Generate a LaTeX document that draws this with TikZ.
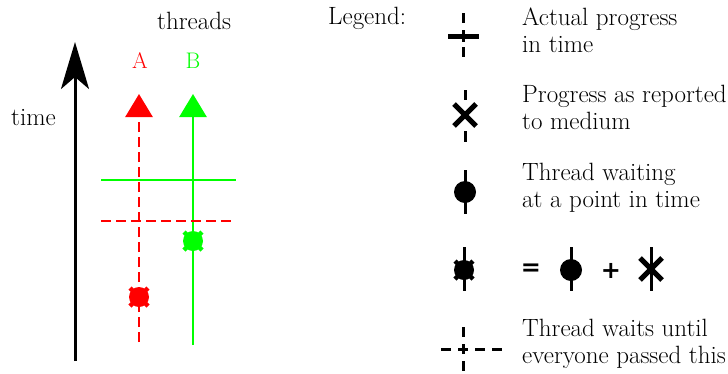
\documentclass[tikz,border=0pt]{standalone}
\usepackage{fontspec}
\newfontfamily\opfont{DejaVu Sans}
\usetikzlibrary{arrows.meta}
\tikzset{
  lbl/.style={font=\fontsize{25}{27}\selectfont, inner sep=0pt, anchor=base west},
  thrlbl/.style={font=\fontsize{22.5}{27}\selectfont, inner sep=0pt, anchor=base},
  opsign/.style={font=\fontsize{24}{27}\selectfont\opfont\bfseries, inner sep=0pt, anchor=center},
  redline/.style={red, line width=2.8pt, dash pattern=on 10pt off 5pt},
  greenline/.style={green, line width=2.8pt},
  timeline/.style={black, line width=3pt},
  sym/.style={black, line width=3pt},
  xmark/.pic={\draw[line width=5pt] (-11,-11)--(11,11) (-11,11)--(11,-11);},
  dotmark/.pic={\fill (0,0) circle[radius=11pt];},
  bothmark/.pic={\fill (0,0) circle[radius=10pt];
                 \draw[line width=4.5pt] (-9,-9)--(9,9) (-9,9)--(9,-9);}
}
\begin{document}
\begin{tikzpicture}[x=1pt,y=-1pt]
\useasboundingbox (0,0) rectangle (728,373);

% ---- left diagram ----
\coordinate (T0) at (75,361);
\coordinate (T1) at (75,42);
\draw[timeline, -{Stealth[length=47pt,width=28pt,inset=12pt]}] (T0) -- (T1);

\coordinate (A0) at (139,342);
\coordinate (A1) at (139,94);
\draw[redline, -{Triangle[length=23pt,width=27pt]}] (A0) -- (A1);

\coordinate (B0) at (193,345);
\coordinate (B1) at (193,94);
\draw[greenline, -{Triangle[length=23pt,width=27pt]}] (B0) -- (B1);

\coordinate (G0) at (101,180);
\coordinate (G1) at (236,180);
\draw[greenline] (G0) -- (G1);

\coordinate (R0) at (101,221);
\coordinate (R1) at (232,221);
\draw[redline] (R0) -- (R1);

\pic[red] at (139,297) {bothmark};
\pic[green] at (193,241) {bothmark};

\node[lbl] (thr) at (157,29) {threads};
\node[thrlbl, red] (la) at (140,68) {A};
\node[thrlbl, green] (lb) at (193,68) {B};
\node[lbl] (tim) at (11,125) {time};

% ---- legend ----
\node[lbl] (leg) at (328,24) {Legend:};

% symbol 1
\draw[sym] (463,13)--(463,23) (463,30)--(463,42) (463,47)--(463,57);
\draw[line width=5pt] (448,36)--(479,36);
\node[lbl] (t1a) at (522,25) {Actual progress};
\node[lbl] (t1b) at (522,52) {in time};

% symbol 2
\draw[sym] (465,90)--(465,100) (465,131)--(465,142);
\pic at (465,115) {xmark};
\node[lbl] (t2a) at (522,102) {Progress as reported};
\node[lbl] (t2b) at (522,129) {to medium};

% symbol 3
\draw[sym] (465,170)--(465,214);
\pic at (465,192) {dotmark};
\node[lbl] (t3a) at (522,180) {Thread waiting};
\node[lbl] (t3b) at (522,207) {at a point in time};

% symbol 4
\draw[sym] (464,247)--(464,291);
\pic at (464,270) {bothmark};
\node[opsign] (eq) at (531,270) {=};
\draw[sym] (571,247)--(571,291);
\pic at (571,270) {dotmark};
\node[opsign] (pl) at (611,271) {+};
\draw[sym] (651,247)--(651,291);
\pic at (651,269) {xmark};

% symbol 5
\draw[sym, dash pattern=on 10pt off 7pt] (463,327)--(463,371);
\draw[sym, dash pattern=on 10pt off 7pt] (441,349)--(502,349);
\node[lbl] (t5a) at (522,336) {Thread waits until};
\node[lbl] (t5b) at (522,363) {everyone passed this};
\end{tikzpicture}
\end{document}
